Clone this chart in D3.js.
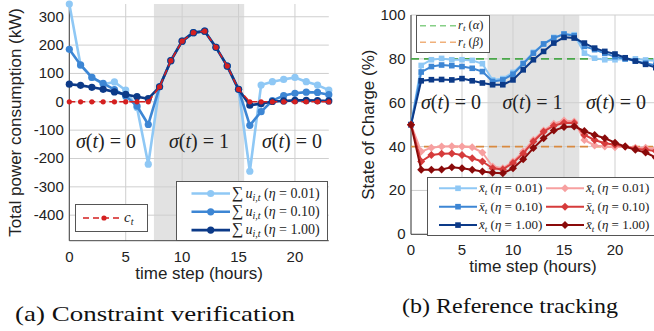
<!DOCTYPE html>
<html>
<head>
  <meta charset="utf-8">
  <title>Constraint verification and reference tracking</title>
  <script src="https://d3js.org/d3.v7.min.js"></script>
  <style>
    body { margin: 0; background: #fff; }
    .tick-label { font-family: "Liberation Sans", Arial, sans-serif; font-size: 15px; fill: #222; }
    .axis-title { font-family: "Liberation Sans", Arial, sans-serif; font-size: 17px; fill: #222; }
    .math { font-family: "Liberation Serif", "DejaVu Serif", serif; fill: #222; }
    .caption { font-family: "Liberation Serif", "Times New Roman", serif; font-size: 22px; fill: #111; }
  </style>
</head>
<body>
<div id="chart"></div>
<script>
// ---- data ----
var hoursA = [0,1,2,3,4,5,6,7,8,9,10,11,12,13,14,15,16,17,18,19,20,21,22,23];
var hoursB = [0,1,2,3,4,5,6,7,8,9,10,11,12,13,14,15,16,17,18,19,20,21,22,23,24];

// (a) total power consumption (kW)
var powerC    = [0,0,0,0,0,0,0,0,53,145,214,244,249,192,126,44,0,0,0,0,0,0,0,0];
var powerE001 = [345,129,86,62,70,41,-20,-220,53,145,214,244,249,192,126,44,-245,59,71,79,86,71,59,41];
var powerE010 = [185,130,86,65,43,20,-15,-80,53,145,214,244,249,192,126,44,-83,-35,4,22,30,34,33,25];
var powerE100 = [62,58,51,44,35,26,18,11,53,145,214,244,249,192,126,44,-12,-7,1,3,5,5,4,3];
var ticksA = [-400,-300,-200,-100,0,100,200,300];
var shadeA = [7.5, 15.5];

// (b) state of charge (%)
var socA001 = [50,77,79.6,80.2,79.6,79.6,79.3,77.8,70.4,71,73.8,78,83,86.8,89.8,91.3,91,82.6,80.3,79.6,79.6,79.9,80,79.5,79];
var socA010 = [50,74,76.5,77.2,76.9,76.5,75.7,74.2,69.7,70.4,73,77.8,82.6,86.8,89.5,91.3,90.5,85.7,84.2,82.5,81,80,79,78,77];
var socA100 = [50,70,70.5,70.6,70.4,71,70,69,68.2,68.2,70.4,75,79.6,83.4,87.2,89.8,89.5,87.2,84.9,83.4,82.2,80.5,79,77.5,76];
var socB001 = [50,37.7,39.5,40,40.2,40,39.7,37.3,30.9,30.1,33.2,37.7,43,47.3,50.4,51.9,51.4,43,40.5,40,39.7,40,39.5,39.5,39];
var socB010 = [50,33.2,36.2,36.7,36.9,36.2,34.7,33.2,30.1,29.6,32.5,36.9,42.3,46.8,49.5,50.9,50.7,45.3,43,41.5,40.8,40,39,38.6,38];
var socB100 = [50,29.4,29.4,29.6,30.6,30.1,29.4,28.6,28.1,27.8,30.1,34.2,39.3,43.8,47.3,48.9,49.2,47.1,45.3,43.8,41.8,40,38.5,37.3,35];
var refAlpha = 80, refBeta = 40;
var ticksB = [0,20,40,60,80,100];
var shadeB = [7.5, 16.5];
var ticksX = [0,5,10,15,20];
var etaLabels = ["0.01", "0.10", "1.00"];

// colours
var blues = ["#8fc8f5", "#3d86d4", "#0c3a88"];
var reds  = ["#f7a0a0", "#d63b3b", "#8a0a0a"];

var W = 654, H = 331;
var svg = d3.select("#chart").append("svg").attr("width", W).attr("height", H);

// generic frame: shading, grid, axes
function frame(x, y, xt, yt, shade) {
  var g = svg.append("g");
  var x0 = x.range()[0], x1 = x.range()[1], y0 = y.range()[0], y1 = y.range()[1];
  g.append("rect").attr("x", x(shade[0])).attr("y", y1)
    .attr("width", x(shade[1]) - x(shade[0])).attr("height", y0 - y1).attr("fill", "#e2e2e2");
  g.selectAll(".gx").data(xt).enter().append("line")
    .attr("x1", d => x(d)).attr("x2", d => x(d)).attr("y1", y0).attr("y2", y1)
    .attr("stroke", "#cfcfcf").attr("stroke-width", 1);
  g.selectAll(".gy").data(yt).enter().append("line")
    .attr("x1", x0).attr("x2", x1).attr("y1", d => y(d)).attr("y2", d => y(d))
    .attr("stroke", "#cfcfcf").attr("stroke-width", 1);
  g.append("line").attr("x1", x0).attr("x2", x0).attr("y1", y0).attr("y2", y1).attr("stroke", "#444");
  g.append("line").attr("x1", x0).attr("x2", x1).attr("y1", y0).attr("y2", y0).attr("stroke", "#444");
  g.selectAll(".tx").data(xt).enter().append("text").attr("class", "tick-label")
    .attr("x", d => x(d)).attr("y", y0 + 21).attr("text-anchor", "middle").text(d => d);
  g.selectAll(".ty").data(yt).enter().append("text").attr("class", "tick-label")
    .attr("x", x0 - 5.5).attr("y", d => y(d) + 5).attr("text-anchor", "end")
    .text(d => d < 0 ? "-" + Math.abs(d) : d);
}

function sigmaLabel(x, y, v) {
  var t = svg.append("text").attr("class", "math").attr("x", x).attr("y", y)
    .attr("font-size", 20).attr("text-anchor", "middle");
  t.append("tspan").attr("font-style", "italic").text("σ");
  t.append("tspan").text("(");
  t.append("tspan").attr("font-style", "italic").text("t");
  t.append("tspan").text(") = " + v);
}

// caption: measured, then stretched horizontally to the width seen in the figure
function caption(cx, y, width, label) {
  var t = svg.append("text").attr("class", "caption").attr("text-anchor", "middle")
    .attr("x", 0).attr("y", 0).text(label);
  var sx = width / t.node().getComputedTextLength();
  t.attr("transform", "translate(" + cx + "," + y + ") scale(" + sx + ",1)");
}

/* ------------- (a) Constraint verification ------------- */
var xa = d3.scaleLinear().domain([0, 23]).range([69.3, 328.8]);
var ya = d3.scaleLinear().domain([-490, 345]).range([240.7, 4]);
frame(xa, ya, ticksX, ticksA, shadeA);

var lineA = d3.line().x((d, i) => xa(hoursA[i])).y(d => ya(d));
[powerE001, powerE010, powerE100].forEach(function (s, k) {
  svg.append("path").datum(s).attr("d", lineA).attr("fill", "none")
    .attr("stroke", blues[k]).attr("stroke-width", 2.6).attr("stroke-linejoin", "round");
  svg.selectAll(null).data(s).enter().append("circle")
    .attr("cx", (d, i) => xa(hoursA[i])).attr("cy", d => ya(d)).attr("r", 3.6).attr("fill", blues[k]);
});
svg.append("path").datum(powerC).attr("d", lineA).attr("fill", "none")
  .attr("stroke", "#d42020").attr("stroke-width", 1.6).attr("stroke-dasharray", "6,4");
svg.selectAll(null).data(powerC).enter().append("circle")
  .attr("cx", (d, i) => xa(hoursA[i])).attr("cy", d => ya(d)).attr("r", 2.6).attr("fill", "#d42020");

sigmaLabel(106, 148, 0);
sigmaLabel(199, 148, 1);
sigmaLabel(292, 148, 0);

// c_t legend
svg.append("rect").attr("x", 75.5).attr("y", 204.5).attr("width", 72).attr("height", 27)
  .attr("fill", "#fff").attr("stroke", "#555").attr("stroke-width", 1);
svg.append("line").attr("x1", 83).attr("x2", 121).attr("y1", 218).attr("y2", 218)
  .attr("stroke", "#d42020").attr("stroke-width", 1.6).attr("stroke-dasharray", "6,4");
svg.append("circle").attr("cx", 104).attr("cy", 218).attr("r", 2.6).attr("fill", "#d42020");
var ct = svg.append("text").attr("class", "math").attr("x", 124).attr("y", 222).attr("font-size", 15);
ct.append("tspan").attr("font-style", "italic").text("c");
ct.append("tspan").attr("font-style", "italic").attr("font-size", 10).attr("dy", 3).text("t");

// eta legend
svg.append("rect").attr("x", 176.5).attr("y", 181.5).attr("width", 151).attr("height", 59)
  .attr("fill", "#fff").attr("stroke", "#555").attr("stroke-width", 1);
etaLabels.forEach(function (e, k) {
  var ly = 193.5 + k * 18.3;
  svg.append("line").attr("x1", 191.5).attr("x2", 230).attr("y1", ly).attr("y2", ly)
    .attr("stroke", blues[k]).attr("stroke-width", 2.6);
  svg.append("circle").attr("cx", 210.7).attr("cy", ly).attr("r", 3.6).attr("fill", blues[k]);
  var t = svg.append("text").attr("class", "math").attr("x", 232).attr("y", ly + 4).attr("font-size", 14);
  t.append("tspan").attr("font-size", 16).text("∑");
  t.append("tspan").attr("font-style", "italic").attr("dx", 2).text("u");
  t.append("tspan").attr("font-style", "italic").attr("font-size", 10).attr("dy", 3).text("i,t");
  t.append("tspan").attr("dy", -3).text(" (");
  t.append("tspan").attr("font-style", "italic").text("η");
  t.append("tspan").text(" = " + e + ")");
});

svg.append("text").attr("class", "axis-title").attr("text-anchor", "middle")
  .attr("transform", "translate(21," + ((4 + 240.7) / 2) + ") rotate(-90)")
  .text("Total power consumption (kW)");
svg.append("text").attr("class", "axis-title").attr("text-anchor", "middle")
  .attr("x", (69.3 + 328.8) / 2).attr("y", 279).text("time step (hours)");
caption(155, 321, 280, "(a) Constraint verification");

/* ------------- (b) Reference tracking ------------- */
var xb = d3.scaleLinear().domain([0, 24]).range([411, 655.8]);
var yb = d3.scaleLinear().domain([0, 100]).range([234.3, 15]);
frame(xb, yb, ticksX, ticksB, shadeB);

svg.append("line").attr("x1", xb(0)).attr("x2", xb(24)).attr("y1", yb(refAlpha)).attr("y2", yb(refAlpha))
  .attr("stroke", "#4aa84a").attr("stroke-width", 1.6).attr("stroke-dasharray", "8,5");
svg.append("line").attr("x1", xb(0)).attr("x2", xb(24)).attr("y1", yb(refBeta)).attr("y2", yb(refBeta))
  .attr("stroke", "#d98a40").attr("stroke-width", 1.6).attr("stroke-dasharray", "8,5");

var lineB = d3.line().x((d, i) => xb(hoursB[i])).y(d => yb(d));
function diamond(s) { return "M0," + (-s) + "L" + s + ",0L0," + s + "L" + (-s) + ",0Z"; }

[socA001, socA010, socA100].forEach(function (s, k) {
  svg.append("path").datum(s).attr("d", lineB).attr("fill", "none")
    .attr("stroke", blues[k]).attr("stroke-width", 2).attr("stroke-linejoin", "round");
  svg.selectAll(null).data(s).enter().append("rect")
    .attr("x", (d, i) => xb(hoursB[i]) - 2.8).attr("y", d => yb(d) - 2.8)
    .attr("width", 5.6).attr("height", 5.6).attr("fill", blues[k]);
});
[socB001, socB010, socB100].forEach(function (s, k) {
  svg.append("path").datum(s).attr("d", lineB).attr("fill", "none")
    .attr("stroke", reds[k]).attr("stroke-width", 2).attr("stroke-linejoin", "round");
  svg.selectAll(null).data(s).enter().append("path")
    .attr("transform", (d, i) => "translate(" + xb(hoursB[i]) + "," + yb(d) + ")")
    .attr("d", diamond(4)).attr("fill", reds[k]);
});

sigmaLabel(451, 109, 0);
sigmaLabel(532.5, 109, 1);
sigmaLabel(616, 109, 0);

// reference legend
svg.append("rect").attr("x", 416.5).attr("y", 15.5).attr("width", 73).attr("height", 37)
  .attr("fill", "#fff").attr("stroke", "#555").attr("stroke-width", 1);
[["α", "#86cf86"], ["β", "#f0b07a"]].forEach(function (r, k) {
  var ly = 25.7 + k * 16.6;
  svg.append("line").attr("x1", 420).attr("x2", 456).attr("y1", ly).attr("y2", ly)
    .attr("stroke", r[1]).attr("stroke-width", 1.4).attr("stroke-dasharray", "6,4");
  var t = svg.append("text").attr("class", "math").attr("x", 458).attr("y", ly + 3.5).attr("font-size", 12.5);
  t.append("tspan").attr("font-style", "italic").text("r");
  t.append("tspan").attr("font-style", "italic").attr("font-size", 9).attr("dy", 2).text("t");
  t.append("tspan").attr("dy", -2).text(" (");
  t.append("tspan").attr("font-style", "italic").text(r[0]);
  t.append("tspan").text(")");
});

// state legend
svg.append("rect").attr("x", 427.5).attr("y", 177.5).attr("width", 230).attr("height", 58)
  .attr("fill", "#fff").attr("stroke", "#555").attr("stroke-width", 1);
etaLabels.forEach(function (e, k) {
  var ly = 188.3 + k * 18.4;
  [[439, blues[k], "sq"], [546, reds[k], "dm"]].forEach(function (c) {
    svg.append("line").attr("x1", c[0]).attr("x2", c[0] + 38).attr("y1", ly).attr("y2", ly)
      .attr("stroke", c[1]).attr("stroke-width", 2);
    if (c[2] === "sq") {
      svg.append("rect").attr("x", c[0] + 19 - 2.8).attr("y", ly - 2.8).attr("width", 5.6).attr("height", 5.6).attr("fill", c[1]);
    } else {
      svg.append("path").attr("transform", "translate(" + (c[0] + 19) + "," + ly + ")").attr("d", diamond(4)).attr("fill", c[1]);
    }
    var t = svg.append("text").attr("class", "math").attr("x", c[0] + 40).attr("y", ly + 4).attr("font-size", 13);
    t.append("tspan").attr("font-style", "italic").text("x\u0304");
    t.append("tspan").attr("font-style", "italic").attr("font-size", 9).attr("dy", 3).text("t");
    t.append("tspan").attr("dy", -3).text(" (");
    t.append("tspan").attr("font-style", "italic").text("η");
    t.append("tspan").text(" = " + e + ")");
  });
});

svg.append("text").attr("class", "axis-title").attr("text-anchor", "middle")
  .attr("transform", "translate(374," + ((15 + 234.3) / 2) + ") rotate(-90)")
  .text("State of Charge (%)");
svg.append("text").attr("class", "axis-title").attr("text-anchor", "middle")
  .attr("x", 533).attr("y", 272).text("time step (hours)");
caption(510, 313, 216, "(b) Reference tracking");
</script>
</body>
</html>
